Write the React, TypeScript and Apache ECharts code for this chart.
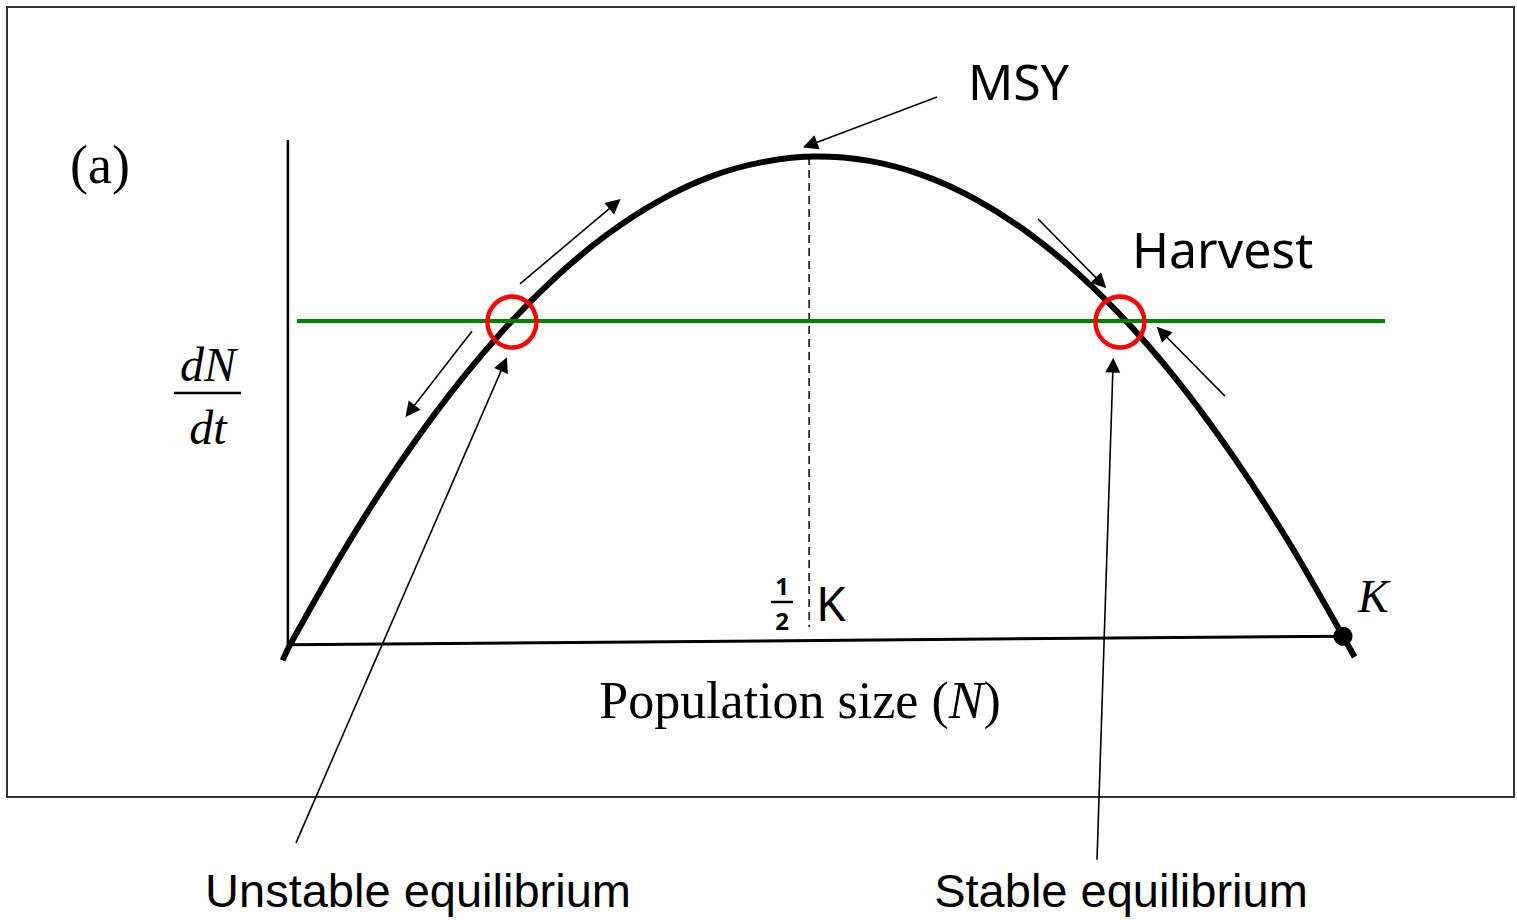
import React, { useEffect, useRef } from "react";
import * as echarts from "echarts";

// Population size N (K = 100) and growth rate dN/dt (MSY = 100)
const curveN = [-0.7, 0, 5, 10, 15, 20, 25, 30, 35, 40, 45, 50, 55, 60, 65, 70, 75, 80, 85, 90, 95, 100, 101.1];
const curveV = [-4.0, -0.8, 18.3, 35.4, 50.5, 63.6, 74.7, 83.8, 90.9, 96.0, 99.0, 100.1, 99.2, 96.3, 91.4, 84.5, 75.6, 64.7, 51.8, 36.8, 19.9, 1.0, -3.3];

// axes of the diagram
const yAxisSeg = [[-0.2, 103.5], [-0.2, -0.8]];
const xAxisSeg = [[0, -0.8], [100, 1.0]];

// harvest level and MSY position
const harvestLevel = 66.1;
const harvestRange = [0.66, 104];
const msyN = 49.3;
const msyTop = 100;
const msyBottom = 2.9;

// equilibria (unstable, stable) and carrying capacity
const equilibriaN = [21.08, 78.82];
const equilibriaV = [65.9, 65.9];
const carryingK = [100, 1.0];

// annotation arrows [tail, tip]
const arrowSegs = [
  [[61.44, 112.4], [49.38, 102.5]],
  [[21.84, 73.8], [30.86, 90.3]],
  [[17.28, 64.0], [11.4, 47.5]],
  [[71.04, 87.2], [77.02, 74.0]],
  [[88.79, 50.6], [82.81, 63.8]],
  [[0.57, -41.7], [20.32, 57.2]],
  [[76.64, -45.2], [78.16, 57.0]],
];

// axis extents (hidden axes)
const xMin = -20;
const xMax = 110;
const yMin = -55;
const yMax = 130;

export default function App() {
  const ref = useRef<HTMLDivElement>(null);
  useEffect(() => {
    document.body.style.margin = "0";
    const chart = echarts.init(ref.current!, undefined, { renderer: "svg" });
    const serif = "'Liberation Serif', 'DejaVu Serif', serif";
    const comic = "'Noto Sans', 'Open Sans', sans-serif";
    const sans = "'Liberation Sans', Arial, sans-serif";
    const pxPerN = 10.53;
    const pxPerV = 4.84;
    const option: any = {
      animation: false,
      backgroundColor: "#ffffff",
      grid: {
        left: 290 + xMin * pxPerN,
        top: 157 - (yMax - 100) * pxPerV,
        width: (xMax - xMin) * pxPerN,
        height: (yMax - yMin) * pxPerV,
      },
      xAxis: { type: "value", min: xMin, max: xMax, show: false },
      yAxis: { type: "value", min: yMin, max: yMax, show: false },
      series: [
        {
          type: "line", clip: false, symbol: "none", silent: true,
          data: yAxisSeg,
          lineStyle: { color: "#000", width: 2.5 },
        },
        {
          type: "line", clip: false, symbol: "none", silent: true,
          data: xAxisSeg,
          lineStyle: { color: "#000", width: 3 },
        },
        {
          type: "line", clip: false, symbol: "none", silent: true,
          data: [[msyN, msyTop], [msyN, msyBottom]],
          lineStyle: { color: "#000", width: 1.5, type: [8, 5] },
        },
        {
          type: "line", clip: false, symbol: "none", silent: true, smooth: 0.35,
          data: curveN.map((n, i) => [n, curveV[i]]),
          lineStyle: { color: "#000", width: 6 },
          z: 3,
        },
        {
          type: "line", clip: false, symbol: "none", silent: true,
          data: harvestRange.map((n) => [n, harvestLevel]),
          lineStyle: { color: "#008000", width: 4 },
          z: 4,
        },
        {
          type: "scatter", clip: false, silent: true,
          data: equilibriaN.map((n, i) => [n, equilibriaV[i]]),
          symbol: "circle", symbolSize: [49, 51],
          itemStyle: { color: "rgba(0,0,0,0)", borderColor: "#ff0000", borderWidth: 4.5, opacity: 1 },
          z: 5,
        },
        {
          type: "scatter", clip: false, silent: true,
          data: [carryingK],
          symbol: "circle", symbolSize: 19,
          itemStyle: { color: "#000", opacity: 1 },
          z: 5,
        },
        {
          type: "lines", coordinateSystem: "cartesian2d", clip: false, silent: true,
          symbol: ["none", "triangle"], symbolSize: [1, 15],
          data: arrowSegs.map((s) => ({ coords: s })),
          lineStyle: { color: "#000", width: 1.6, opacity: 1, curveness: 0 },
          z: 6,
        },
      ],
      graphic: [
        { type: "rect", shape: { x: 7, y: 7, width: 1507, height: 790 }, style: { fill: "none", stroke: "#333", lineWidth: 2 }, z: 1 },
        { type: "text", x: 70, y: 165, style: { text: "(a)", font: `54px ${serif}`, fill: "#000", textVerticalAlign: "middle" } },
        { type: "text", x: 208, y: 364, style: { text: "dN", font: `italic 48px ${serif}`, fill: "#000", textAlign: "center", textVerticalAlign: "middle" } },
        { type: "line", shape: { x1: 174, y1: 393, x2: 241, y2: 393 }, style: { stroke: "#000", lineWidth: 2.5 } },
        { type: "text", x: 208, y: 427, style: { text: "dt", font: `italic 48px ${serif}`, fill: "#000", textAlign: "center", textVerticalAlign: "middle" } },
        { type: "text", x: 968, y: 81, style: { text: "MSY", font: `50px ${comic}`, fill: "#000", textVerticalAlign: "middle" } },
        { type: "text", x: 1132, y: 249, style: { text: "Harvest", font: `50px ${comic}`, fill: "#000", textVerticalAlign: "middle" } },
        { type: "text", x: 782, y: 585, style: { text: "1", font: `bold 24px ${comic}`, fill: "#000", textAlign: "center", textVerticalAlign: "middle" } },
        { type: "line", shape: { x1: 771, y1: 602, x2: 793, y2: 602 }, style: { stroke: "#000", lineWidth: 2.5 } },
        { type: "text", x: 782, y: 620, style: { text: "2", font: `bold 24px ${comic}`, fill: "#000", textAlign: "center", textVerticalAlign: "middle" } },
        { type: "text", x: 816, y: 602, style: { text: "K", font: `48px ${comic}`, fill: "#000", textVerticalAlign: "middle" } },
        { type: "text", x: 1358, y: 596, style: { text: "K", font: `italic 46px ${serif}`, fill: "#000", textVerticalAlign: "middle" } },
        {
          type: "text", x: 800, y: 700,
          style: {
            text: "Population size ({i|N})", font: `52px ${serif}`, fill: "#000", textAlign: "center", textVerticalAlign: "middle",
            rich: { i: { fontStyle: "italic", fontSize: 52, fontFamily: serif } },
          },
        },
        { type: "text", x: 418, y: 890, style: { text: "Unstable equilibrium", font: `47px ${sans}`, fill: "#000", textAlign: "center", textVerticalAlign: "middle" } },
        { type: "text", x: 1121, y: 890, style: { text: "Stable equilibrium", font: `47px ${sans}`, fill: "#000", textAlign: "center", textVerticalAlign: "middle" } },
      ],
    };
    chart.setOption(option);
    return () => chart.dispose();
  }, []);
  return <div ref={ref} style={{ width: 1517, height: 920 }} />;
}
